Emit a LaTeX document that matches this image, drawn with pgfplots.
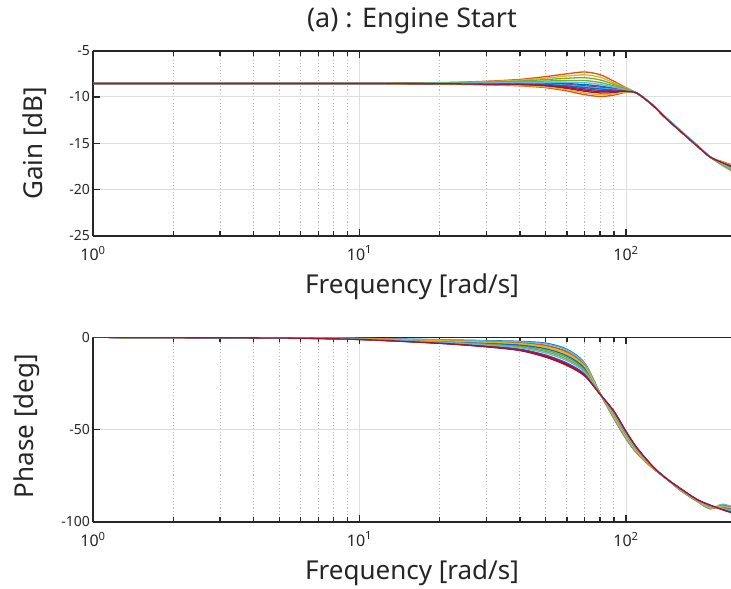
\documentclass[border=0pt]{standalone}
\usepackage{fontspec}
\setmainfont{Noto Sans}
\usepackage{pgfplots}
\pgfplotsset{compat=1.18}
\definecolor{mB}{RGB}{0,114,189}
\definecolor{mO}{RGB}{217,83,25}
\definecolor{mY}{RGB}{237,177,32}
\definecolor{mP}{RGB}{126,47,142}
\definecolor{mG}{RGB}{119,172,48}
\definecolor{mC}{RGB}{77,190,238}
\definecolor{mR}{RGB}{162,20,47}
\definecolor{axc}{RGB}{38,38,38}
\newcommand\tkfont{\fontsize{14}{16}\selectfont}
\newcommand\xtkfont{\fontsize{16}{18}\selectfont}
\newcommand\lbfont{\fontsize{26}{30}\selectfont}
\newcommand\ttfont{\fontsize{27}{31}\selectfont}
\begin{document}
\begin{tikzpicture}[x=1pt,y=1pt]
\path[use as bounding box] (0,0) rectangle (731,-589);
\begin{axis}[xmode=log, xmin=1, xmax=247.7,
  scale only axis, width=638pt,
  axis x line*=box, axis y line*=left,
  axis line style={axc, line width=1.6pt},
  tick align=inside, xtick pos=both, ytick pos=left,
  major tick length=7pt, minor tick length=5pt,
  tick style={axc, line width=1.4pt},
  xtick={1,10,100},
  xticklabels={10\textsuperscript{0},10\textsuperscript{1},10\textsuperscript{2}},
  xticklabel style={font=\xtkfont, text=axc, inner sep=0pt, yshift=-10pt},
  yticklabel style={font=\tkfont, text=axc, inner sep=0pt, xshift=-3pt},
  xmajorgrids=true, xminorgrids=true, ymajorgrids=true,
  major grid style={solid, line width=1pt, color=black!13},
  minor grid style={dash pattern=on 1.1pt off 2.2pt, line width=1pt, color=black!28},
  xlabel={Frequency [rad/s]},
  xlabel style={font=\lbfont, text=axc, at={(axis description cs:0.5,0)}, anchor=base, yshift=-57.6pt},
  every axis plot/.append style={line width=1.3pt, smooth, tension=0.5},
  at={(93pt,-50.7pt)}, anchor=north west, height=185pt,
  ymin=-25, ymax=-5, ytick={-25,-20,-15,-10,-5},
  yticklabels={-25,-20,-15,-10,-5},
  ylabel={Gain [dB]},
  ylabel style={font=\lbfont, text=axc, at={(axis description cs:-0.0784,0.5)}, anchor=base},
  title={(a) : Engine Start},
  title style={font=\ttfont, text=axc, at={(axis description cs:0.5,1)}, anchor=base, yshift=17.4pt},
]
% c1 blue a=0.12
\addplot[mB] coordinates {(1,-8.55) (10,-8.55) (20,-8.54) (30,-8.52) (40,-8.50) (50,-8.50) (60,-8.56) (70,-8.66) (80,-8.83) (90,-9.05) (100,-9.26) (110,-9.6) (126,-10.9) (140,-12.2) (160,-13.7) (185,-15.3) (207,-16.5) (230,-17.22) (260,-17.95)};
% c2 orange a=1
\addplot[mO] coordinates {(1,-8.55) (10,-8.55) (20,-8.45) (30,-8.30) (40,-8.10) (50,-7.80) (60,-7.50) (70,-7.30) (80,-7.60) (90,-8.30) (100,-9.00) (110,-9.6) (126,-10.9) (140,-12.2) (160,-13.7) (185,-15.3) (207,-16.5) (230,-17.40) (260,-18.30)};
% c3 yellow a=0.8
\addplot[mY] coordinates {(1,-8.55) (10,-8.55) (20,-8.47) (30,-8.35) (40,-8.19) (50,-7.96) (60,-7.74) (70,-7.61) (80,-7.88) (90,-8.47) (100,-9.06) (110,-9.6) (126,-10.9) (140,-12.2) (160,-13.7) (185,-15.3) (207,-16.5) (230,-17.36) (260,-18.22)};
% c4 purple a=0.03
\addplot[mP] coordinates {(1,-8.55) (10,-8.55) (20,-8.55) (30,-8.54) (40,-8.54) (50,-8.58) (60,-8.66) (70,-8.80) (80,-8.96) (90,-9.12) (100,-9.29) (110,-9.6) (126,-10.9) (140,-12.2) (160,-13.7) (185,-15.3) (207,-16.5) (230,-17.21) (260,-17.91)};
% c5 green a=0.6
\addplot[mG] coordinates {(1,-8.55) (10,-8.55) (20,-8.49) (30,-8.40) (40,-8.28) (50,-8.12) (60,-7.98) (70,-7.92) (80,-8.16) (90,-8.64) (100,-9.12) (110,-9.6) (126,-10.9) (140,-12.2) (160,-13.7) (185,-15.3) (207,-16.5) (230,-17.32) (260,-18.14)};
% c6 cyan a=-0.05
\addplot[mC] coordinates {(1,-8.55) (10,-8.55) (20,-8.55) (30,-8.56) (40,-8.56) (50,-8.62) (60,-8.73) (70,-8.90) (80,-9.05) (90,-9.18) (100,-9.31) (110,-9.6) (126,-10.85) (140,-12.1) (160,-13.6) (185,-15.2) (207,-16.45) (230,-17.19) (260,-17.88)};
% c7 red a=-0.6
\addplot[mR] coordinates {(1,-8.55) (10,-8.55) (20,-8.58) (30,-8.64) (40,-8.70) (50,-8.84) (60,-9.09) (70,-9.39) (80,-9.57) (90,-9.54) (100,-9.42) (110,-9.6) (126,-10.9) (140,-12.2) (160,-13.7) (185,-15.3) (207,-16.5) (230,-17.08) (260,-17.66)};
% c8 blue a=-0.15
\addplot[mB] coordinates {(1,-8.55) (10,-8.55) (20,-8.56) (30,-8.57) (40,-8.59) (50,-8.66) (60,-8.80) (70,-8.99) (80,-9.14) (90,-9.25) (100,-9.33) (110,-9.6) (126,-10.9) (140,-12.2) (160,-13.7) (185,-15.3) (207,-16.5) (230,-17.17) (260,-17.84)};
% c9 orange a=-1
\addplot[mO] coordinates {(1,-8.55) (10,-8.55) (20,-8.60) (30,-8.70) (40,-8.80) (50,-9.00) (60,-9.35) (70,-9.75) (80,-9.95) (90,-9.80) (100,-9.50) (110,-9.6) (126,-10.9) (140,-12.2) (160,-13.7) (185,-15.3) (207,-16.5) (230,-17.00) (260,-17.50)};
% c10 yellow a=-0.8
\addplot[mY] coordinates {(1,-8.55) (10,-8.55) (20,-8.59) (30,-8.67) (40,-8.75) (50,-8.92) (60,-9.22) (70,-9.57) (80,-9.76) (90,-9.67) (100,-9.46) (110,-9.6) (126,-10.9) (140,-12.2) (160,-13.7) (185,-15.3) (207,-16.5) (230,-17.04) (260,-17.58)};
% c11 purple a=-0.3
\addplot[mP] coordinates {(1,-8.55) (10,-8.55) (20,-8.57) (30,-8.60) (40,-8.63) (50,-8.72) (60,-8.90) (70,-9.12) (80,-9.29) (90,-9.35) (100,-9.36) (110,-9.6) (126,-10.9) (140,-12.2) (160,-13.7) (185,-15.3) (207,-16.5) (230,-17.14) (260,-17.78)};
% c12 green a=0.4
\addplot[mG] coordinates {(1,-8.55) (10,-8.55) (20,-8.51) (30,-8.45) (40,-8.37) (50,-8.28) (60,-8.22) (70,-8.23) (80,-8.44) (90,-8.81) (100,-9.18) (110,-9.6) (126,-10.9) (140,-12.2) (160,-13.7) (185,-15.3) (207,-16.5) (230,-17.28) (260,-18.06)};
% c13 cyan a=0.25
\addplot[mC] coordinates {(1,-8.55) (10,-8.55) (20,-8.53) (30,-8.49) (40,-8.44) (50,-8.40) (60,-8.40) (70,-8.46) (80,-8.65) (90,-8.94) (100,-9.23) (110,-9.6) (126,-10.85) (140,-12.1) (160,-13.6) (185,-15.2) (207,-16.45) (230,-17.25) (260,-18.00)};
% c14 red a=-0.45
\addplot[mR] coordinates {(1,-8.55) (10,-8.55) (20,-8.57) (30,-8.62) (40,-8.66) (50,-8.78) (60,-8.99) (70,-9.26) (80,-9.43) (90,-9.44) (100,-9.39) (110,-9.6) (126,-10.9) (140,-12.2) (160,-13.7) (185,-15.3) (207,-16.5) (230,-17.11) (260,-17.72)};
\end{axis}
\begin{axis}[xmode=log, xmin=1, xmax=247.7,
  scale only axis, width=638pt,
  axis x line*=box, axis y line*=left,
  axis line style={axc, line width=1.6pt},
  tick align=inside, xtick pos=both, ytick pos=left,
  major tick length=7pt, minor tick length=5pt,
  tick style={axc, line width=1.4pt},
  xtick={1,10,100},
  xticklabels={10\textsuperscript{0},10\textsuperscript{1},10\textsuperscript{2}},
  xticklabel style={font=\xtkfont, text=axc, inner sep=0pt, yshift=-10pt},
  yticklabel style={font=\tkfont, text=axc, inner sep=0pt, xshift=-3pt},
  xmajorgrids=true, xminorgrids=true, ymajorgrids=true,
  major grid style={solid, line width=1pt, color=black!13},
  minor grid style={dash pattern=on 1.1pt off 2.2pt, line width=1pt, color=black!28},
  xlabel={Frequency [rad/s]},
  xlabel style={font=\lbfont, text=axc, at={(axis description cs:0.5,0)}, anchor=base, yshift=-57.6pt},
  every axis plot/.append style={line width=1.3pt, smooth, tension=0.5},
  at={(93pt,-337.3pt)}, anchor=north west, height=184.4pt,
  ymin=-100, ymax=0, ytick={-100,-50,0},
  yticklabels={-100,-50,0},
  ylabel={Phase [deg]},
  ylabel style={font=\lbfont, text=axc, at={(axis description cs:-0.094,0.519)}, anchor=base},
]
% c1 blue b=0
\addplot[mB] coordinates {(1,0) (5,-0.2) (10,-0.6) (20,-1.3) (30,-1.8) (40,-2.2) (50,-3.2) (60,-6.5) (70,-14) (80,-30.5) (90,-44) (100,-55) (110,-63) (126,-71) (140,-76) (160,-83) (185,-89) (207,-93) (230,-91) (260,-92.5)};
% c2 orange b=0.15
\addplot[mO] coordinates {(1,0) (5,-0.23) (10,-0.69) (20,-1.6) (30,-2.31) (40,-2.95) (50,-4.34) (60,-7.82) (70,-15.05) (80,-30.58) (90,-43.4) (100,-54.4) (110,-62.55) (126,-70.85) (140,-76) (160,-82.85) (185,-88.85) (207,-92.7) (230,-91.38) (260,-93.03)};
% c3 yellow b=0.3
\addplot[mY] coordinates {(1,0) (5,-0.26) (10,-0.78) (20,-1.9) (30,-2.82) (40,-3.7) (50,-5.48) (60,-9.14) (70,-16.1) (80,-30.65) (90,-42.8) (100,-53.8) (110,-62.1) (126,-70.7) (140,-76) (160,-82.7) (185,-88.7) (207,-92.4) (230,-91.75) (260,-93.55)};
% c4 purple b=0.9
\addplot[mP] coordinates {(1,0) (5,-0.38) (10,-1.14) (20,-3.1) (30,-4.86) (40,-6.7) (50,-10.04) (60,-14.42) (70,-20.3) (80,-30.95) (90,-40.4) (100,-51.4) (110,-60.3) (126,-70.1) (140,-76) (160,-82.1) (185,-88.1) (207,-91.2) (230,-93.25) (260,-95.65)};
% c5 green b=0.5
\addplot[mG] coordinates {(1,0) (5,-0.3) (10,-0.9) (20,-2.3) (30,-3.5) (40,-4.7) (50,-7.0) (60,-10.9) (70,-17.5) (80,-30.75) (90,-42) (100,-53) (110,-61.5) (126,-70.5) (140,-76) (160,-82.5) (185,-88.5) (207,-92) (230,-92.25) (260,-94.25)};
% c6 cyan b=0.05
\addplot[mC] coordinates {(1,0) (5,-0.21) (10,-0.63) (20,-1.4) (30,-1.97) (40,-2.45) (50,-3.58) (60,-6.94) (70,-14.35) (80,-30.53) (90,-43.8) (100,-54.8) (110,-62.85) (126,-70.95) (140,-76) (160,-82.95) (185,-88.95) (207,-92.9) (230,-90.5) (260,-92.68)};
% c7 red b=1
\addplot[mR] coordinates {(1,0) (5,-0.4) (10,-1.2) (20,-3.3) (30,-5.2) (40,-7.2) (50,-10.8) (60,-15.3) (70,-21) (80,-31) (90,-40) (100,-51) (110,-60) (126,-70) (140,-76) (160,-82) (185,-88) (207,-91) (230,-93.5) (260,-96)};
% c8 blue b=0.4
\addplot[mB] coordinates {(1,0) (5,-0.28) (10,-0.84) (20,-2.1) (30,-3.16) (40,-4.2) (50,-6.24) (60,-10.02) (70,-16.8) (80,-30.7) (90,-42.4) (100,-53.4) (110,-61.8) (126,-70.6) (140,-76) (160,-82.6) (185,-88.6) (207,-92.2) (230,-92.0) (260,-93.9)};
% c9 orange b=0.2
\addplot[mO] coordinates {(1,0) (5,-0.24) (10,-0.72) (20,-1.7) (30,-2.48) (40,-3.2) (50,-4.72) (60,-8.26) (70,-15.4) (80,-30.6) (90,-43.2) (100,-54.2) (110,-62.4) (126,-70.8) (140,-76) (160,-82.8) (185,-88.8) (207,-92.6) (230,-91.5) (260,-93.2)};
% c10 yellow b=0.25
\addplot[mY] coordinates {(1,0) (5,-0.25) (10,-0.75) (20,-1.8) (30,-2.65) (40,-3.45) (50,-5.1) (60,-8.7) (70,-15.75) (80,-30.63) (90,-43) (100,-54) (110,-62.25) (126,-70.75) (140,-76) (160,-82.75) (185,-88.75) (207,-92.5) (230,-91.63) (260,-93.38)};
% c11 purple b=0.85
\addplot[mP] coordinates {(1,0) (5,-0.37) (10,-1.11) (20,-3.0) (30,-4.69) (40,-6.45) (50,-9.66) (60,-13.98) (70,-19.95) (80,-30.93) (90,-40.6) (100,-51.6) (110,-60.45) (126,-70.15) (140,-76) (160,-82.15) (185,-88.15) (207,-91.3) (230,-93.13) (260,-95.48)};
% c12 green b=0.6
\addplot[mG] coordinates {(1,0) (5,-0.32) (10,-0.96) (20,-2.5) (30,-3.84) (40,-5.2) (50,-7.76) (60,-11.78) (70,-18.2) (80,-30.8) (90,-41.6) (100,-52.6) (110,-61.2) (126,-70.4) (140,-76) (160,-82.4) (185,-88.4) (207,-91.8) (230,-92.5) (260,-94.6)};
% c13 cyan b=0.7
\addplot[mC] coordinates {(1,0) (5,-0.34) (10,-1.02) (20,-2.7) (30,-4.18) (40,-5.7) (50,-8.52) (60,-12.66) (70,-18.9) (80,-30.85) (90,-41.2) (100,-52.2) (110,-60.9) (126,-70.3) (140,-76) (160,-82.3) (185,-88.3) (207,-91.6) (230,-92.75) (260,-94.95)};
% c14 red b=0.95
\addplot[mR] coordinates {(1,0) (5,-0.39) (10,-1.17) (20,-3.2) (30,-5.03) (40,-6.95) (50,-10.42) (60,-14.86) (70,-20.65) (80,-30.98) (90,-40.2) (100,-51.2) (110,-60.15) (126,-70.05) (140,-76) (160,-82.05) (185,-88.05) (207,-91.1) (230,-93.38) (260,-95.83)};
\end{axis}
\end{tikzpicture}
\end{document}
